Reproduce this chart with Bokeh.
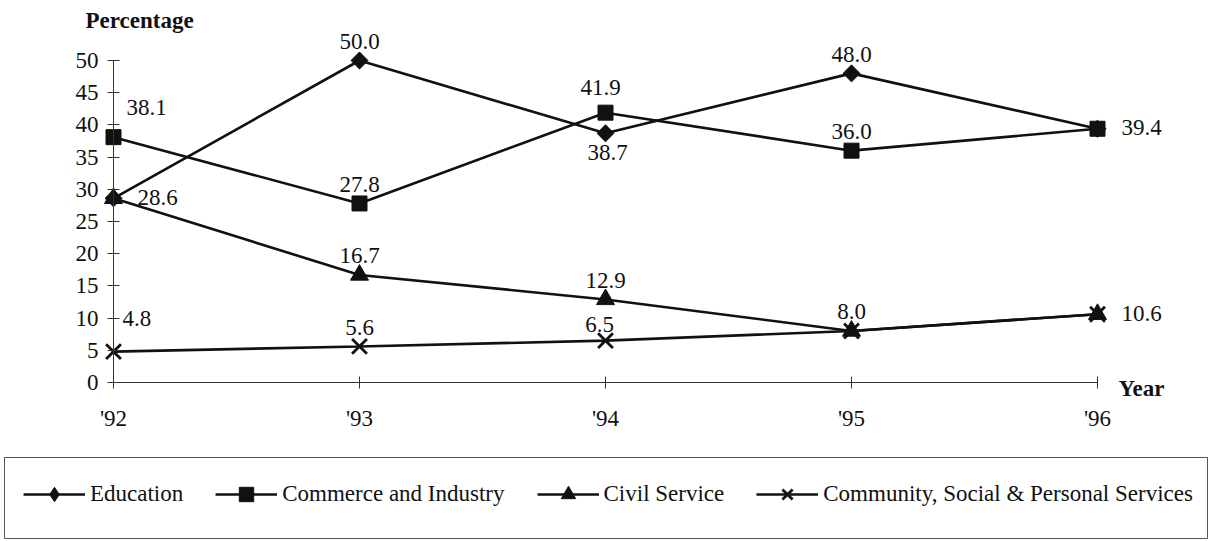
import math
from bokeh.plotting import figure
from bokeh.models import Range1d, LinearAxis, FixedTicker, Label, Legend, LegendItem
from bokeh.embed import file_html
from bokeh.resources import INLINE

# ---- data ----
years = [1992, 1993, 1994, 1995, 1996]
year_labels = ["'92", "'93", "'94", "'95", "'96"]
education = [28.6, 50.0, 38.7, 48.0, 39.4]
commerce = [38.1, 27.8, 41.9, 36.0, 39.4]
civil = [28.6, 16.7, 12.9, 8.0, 10.6]
community = [4.8, 5.6, 6.5, 8.0, 10.6]
series_names = ["Education", "Commerce and Industry", "Civil Service",
                "Community, Social & Personal Services"]
y_ticks = [0, 5, 10, 15, 20, 25, 30, 35, 40, 45, 50]

# value labels: (series index, year index, placement)
value_labels = [
    (1, 0, "above_right_far"), (0, 0, "right"), (3, 0, "above_right"),
    (0, 1, "above"), (1, 1, "above"), (2, 1, "above"), (3, 1, "above"),
    (1, 2, "above_high"), (0, 2, "below"), (2, 2, "above"), (3, 2, "above_low"),
    (0, 3, "above"), (1, 3, "above"), (3, 3, "above"),
    (1, 4, "right"), (3, 4, "right"),
]

# ---- layout ----
W, H = 1211, 541
X92_PX, X96_PX = 113, 1097
Y0_PX, Y50_PX = 382, 60
ppx = (X96_PX - X92_PX) / 4.0
ppy = (Y0_PX - Y50_PX) / 50.0
x_start = years[0] - X92_PX / ppx
x_end = x_start + W / ppx
y_end = 50 + Y50_PX / ppy
y_start = y_end - H / ppy

def fx(px):
    return x_start + px / ppx

def fy(py):
    return y_end - py / ppy

FONT = "Liberation Serif"
FS = "23px"
INK = "#111111"

p = figure(width=W, height=H, x_range=Range1d(x_start, x_end),
           y_range=Range1d(y_start, y_end), x_axis_type=None, y_axis_type=None,
           toolbar_location=None, output_backend="svg", min_border=0,
           title=None)
p.outline_line_color = None
p.background_fill_color = "white"
p.border_fill_color = "white"

# axes
yax = LinearAxis(fixed_location=years[0], bounds=(0, 50),
                 ticker=FixedTicker(ticks=y_ticks))
xax = LinearAxis(fixed_location=0, bounds=(years[0], years[-1]),
                 ticker=FixedTicker(ticks=years),
                 major_label_overrides={y: l for y, l in zip(years, year_labels)})
for ax in (yax, xax):
    ax.axis_line_color = "#333333"
    ax.axis_line_width = 1
    ax.major_tick_line_color = "#333333"
    ax.major_tick_in = 6
    ax.major_tick_out = 6
    ax.minor_tick_line_color = None
    ax.major_label_text_font = FONT
    ax.major_label_text_font_size = FS
    ax.major_label_text_color = INK
yax.major_label_standoff = 9
xax.major_label_standoff = 17
p.add_layout(yax, "left")
p.add_layout(xax, "below")

# legend box
p.quad(left=fx(4), right=fx(1207), top=fy(457), bottom=fy(538),
       fill_color=None, line_color="#555555", line_width=1)

# series
all_series = [education, commerce, civil, community]
items = []
for i, (name, vals) in enumerate(zip(series_names, all_series)):
    lr = p.line(years, vals, line_color=INK, line_width=2.6)
    if i == 0:
        # legend-only diamond, hidden beneath the rotated squares
        sr = p.scatter(years, vals, marker="diamond", size=16,
                       fill_color=INK, line_color=INK, line_width=1)
        p.scatter(years, vals, marker="square", size=12, angle=math.pi / 4,
                  fill_color=INK, line_color=INK, line_width=1)
    elif i == 1:
        sr = p.scatter(years, vals, marker="square", size=15,
                       fill_color=INK, line_color=INK, line_width=1)
    elif i == 2:
        sr = p.scatter(years, vals, marker="triangle", size=18,
                       fill_color=INK, line_color=INK, line_width=1)
    else:
        sr = p.scatter(years, vals, marker="x", size=21,
                       line_color=INK, line_width=2.8)
    items.append(LegendItem(label=name, renderers=[lr, sr]))

legend = Legend(items=items, orientation="horizontal", location=(23, 29),
                glyph_width=62, glyph_height=36, label_height=34,
                label_standoff=5, spacing=32, padding=0, margin=0,
                border_line_color=None, background_fill_alpha=0,
                label_text_font=FONT, label_text_font_size=FS,
                label_text_color=INK, label_text_baseline="middle")
p.add_layout(legend)

# value labels
placements = {
    "above": (0, 19, "center"),
    "above_high": (-5, 25, "center"),
    "above_low": (-6, 16, "center"),
    "below": (2, -19, "center"),
    "right": (24, 1, "left"),
    "above_right": (9, 33, "left"),
    "above_right_far": (13, 30, "left"),
}
for si, yi, plc in value_labels:
    dx, dy, align = placements[plc]
    v = all_series[si][yi]
    p.add_layout(Label(x=years[yi], y=v, text=f"{v:.1f}", x_offset=dx, y_offset=dy,
                       text_align=align, text_baseline="middle",
                       text_font=FONT, text_font_size=FS, text_color=INK))

# axis titles
p.add_layout(Label(x=years[0], y=50, text="Percentage", x_offset=-28, y_offset=40,
                   text_align="left", text_baseline="middle", text_font=FONT,
                   text_font_size=FS, text_font_style="bold", text_color=INK))
p.add_layout(Label(x=years[-1], y=0, text="Year", x_offset=21, y_offset=-6,
                   text_align="left", text_baseline="middle", text_font=FONT,
                   text_font_size=FS, text_font_style="bold", text_color=INK))

open("out.html", "w").write(file_html(p, INLINE))
